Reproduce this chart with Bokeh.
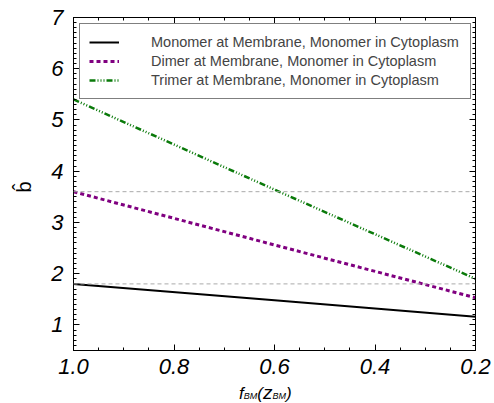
from bokeh.plotting import figure
from bokeh.layouts import column, row
from bokeh.models import (Range1d, FixedTicker, LinearAxis, Legend, LegendItem,
                          Span, PrintfTickFormatter, Div)
from bokeh.embed import file_html
from bokeh.resources import INLINE

# ---- data ----
f_bm = [1.0, 0.6, 0.2]
monomer = [1.80, 1.48, 1.16]
dimer = [3.60, 2.56, 1.53]
trimer = [5.40, 3.64, 1.90]
ref_levels = [3.6, 1.8]

series_labels = [
    "Monomer at Membrane, Monomer in Cytoplasm",
    "Dimer at Membrane, Monomer in Cytoplasm",
    "Trimer at Membrane, Monomer in Cytoplasm",
]
x_ticks = [1.0, 0.8, 0.6, 0.4, 0.2]
x_minor = [round(0.2 + 0.05 * i, 2) for i in range(17)]
y_ticks = [1, 2, 3, 4, 5, 6, 7]
y_minor = [round(0.5 + 0.1 * i, 2) for i in range(66)]
y_title = "b\u0302"

FONT = "Liberation Sans"
LEFT_W = 40

p = figure(width=494 - LEFT_W, height=383, output_backend="svg",
           toolbar_location=None,
           x_range=Range1d(1.0, 0.2), y_range=Range1d(0.5, 7.0),
           min_border_left=73 - LEFT_W, min_border_right=19, min_border_top=17,
           min_border_bottom=33, x_axis_location=None, y_axis_location=None)
p.grid.visible = False
p.outline_line_color = "black"
p.outline_line_width = 1
p.background_fill_color = "white"
p.border_fill_color = "white"


def style_axis(ax, ticks, minor, show_labels):
    ax.ticker = FixedTicker(ticks=ticks, minor_ticks=minor)
    ax.major_tick_in = 6
    ax.major_tick_out = 0
    ax.minor_tick_in = 3
    ax.minor_tick_out = 0
    ax.axis_line_color = "black"
    ax.major_tick_line_color = "black"
    ax.minor_tick_line_color = "black"
    ax.major_label_text_font = FONT
    ax.major_label_text_font_style = "italic"
    ax.major_label_text_color = "black" if show_labels else None
    ax.major_label_text_font_size = "22px" if show_labels else "1px"
    if not show_labels:
        ax.major_label_standoff = 0


xb = LinearAxis()
style_axis(xb, x_ticks, x_minor, True)
xb.formatter = PrintfTickFormatter(format="%.1f")
xb.major_label_standoff = 8
p.add_layout(xb, "below")

xt = LinearAxis()
style_axis(xt, x_ticks, x_minor, False)
p.add_layout(xt, "above")

yl = LinearAxis()
style_axis(yl, y_ticks, y_minor, True)
yl.major_label_standoff = 10
p.add_layout(yl, "left")

yr = LinearAxis()
style_axis(yr, y_ticks, y_minor, False)
p.add_layout(yr, "right")

for lv in ref_levels:
    p.add_layout(Span(location=lv, dimension="width", line_color="#aaaaaa",
                      line_dash="4 3", line_width=1))

r1 = p.line(f_bm, monomer, line_color="black", line_width=2)
r2 = p.line(f_bm, dimer, line_color="#800080", line_width=3, line_dash="4 3")
r3 = p.line(f_bm, trimer, line_color="#0a7a0a", line_width=2.5,
            line_dash="6 2 1 2 1 2 1 2")

legend = Legend(items=[LegendItem(label=series_labels[0], renderers=[r1]),
                       LegendItem(label=series_labels[1], renderers=[r2]),
                       LegendItem(label=series_labels[2], renderers=[r3])],
                location="top_left", margin=6, padding=9, spacing=1,
                label_height=18, glyph_height=18, glyph_width=30,
                label_standoff=32, label_width=310,
                label_text_font=FONT, label_text_font_size="14.5px",
                border_line_color="black", border_line_width=1,
                background_fill_color="white", background_fill_alpha=1)
p.add_layout(legend, "center")

# y-axis title (b-hat), rotated, as real HTML text left of the plot
ytitle = Div(text=('<div style="position:absolute; left:18px; top:177px; '
                   'transform:rotate(-90deg); font-size:20px; line-height:20px;">'
                   + y_title + '</div>'),
             width=LEFT_W, height=403, margin=0,
             styles={"font-family": FONT, "color": "black",
                     "background-color": "white"})

# x-axis title f_BM(z_BM) as real HTML text below the plot
sub = '<span style="font-size:9px">BM</span>'
title_html = ('<i>f' + sub + '(<span style="font-size:19px">z</span>' + sub + ')</i>')
xtitle = Div(text=title_html, width=494 - LEFT_W, height=20, margin=0,
             styles={"font-family": FONT, "font-size": "17px",
                     "line-height": "20px",
                     "text-indent": str(239 - LEFT_W) + "px",
                     "white-space": "nowrap", "color": "black",
                     "background-color": "white"})

layout = row(ytitle, column(p, xtitle, spacing=0), spacing=0)
open("out.html", "w").write(file_html(layout, INLINE))
